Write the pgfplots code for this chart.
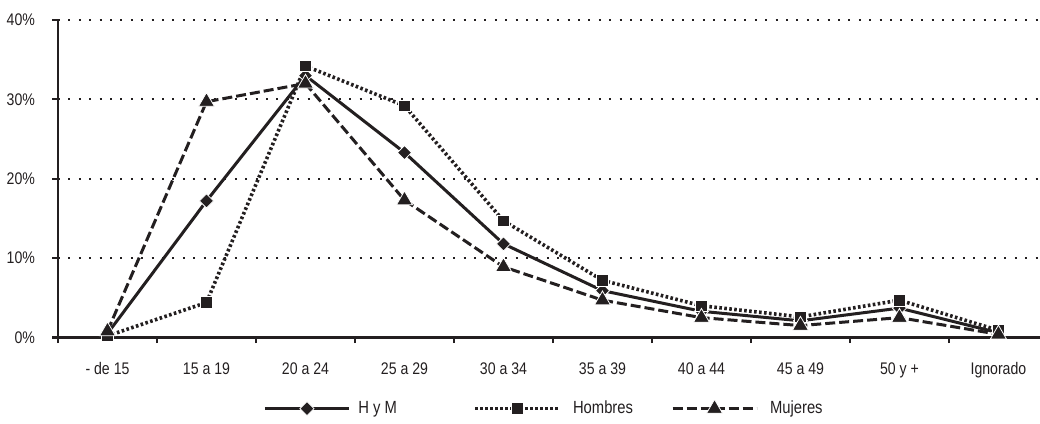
\documentclass[border=0pt]{standalone}
\usepackage{fontspec}
\setmainfont{Liberation Sans}[FakeStretch=0.84]
\usepackage{pgfplots}
\pgfplotsset{compat=1.18}
\definecolor{ink}{RGB}{35,31,32}

\begin{document}
\begin{tikzpicture}
\begin{axis}[
    name=ax,
    scale only axis,
    width=491pt, height=158.75pt,
    xmin=-0.5, xmax=9.42,
    ymin=0, ymax=40,
    axis x line=bottom, axis y line=left,
    axis line style={-, line width=1.3pt, ink},
    xtick={0,...,9},
    xticklabels={- de 15,15 a 19,20 a 24,25 a 29,30 a 34,35 a 39,40 a 44,45 a 49,50 y +,Ignorado},
    major x tick style={draw=none},
    minor xtick={-0.5,0.5,1.5,2.5,3.5,4.5,5.5,6.5,7.5,8.5},
    minor x tick style={line width=1.1pt, ink},
    minor tick length=2.8pt,
    ytick={0,10,20,30,40},
    yticklabels={0\%,10\%,20\%,30\%,40\%},
    y tick style={line width=1.1pt, ink},
    major tick length=3pt,
    tick align=outside,
    ymajorgrids=true,
    grid style={ink, line width=1pt, dash pattern=on 1pt off 4.2pt},
    /pgf/number format/assume math mode=true,
    tick label style={font=\fontsize{8.4}{9}\selectfont, text=ink},
    xticklabel style={yshift=-6pt},
    yticklabel style={xshift=-5pt},
    legend columns=3,
    legend style={at={(0.2088,-0.222)}, anchor=west, draw=none, fill=none,
        inner sep=0pt, column sep=0pt, nodes={inner sep=0pt},
        font=\fontsize{8.8}{10}\selectfont, text=ink},
    legend cell align=left,
    legend image code/.code={
        \draw[mark repeat=2, mark phase=2] plot coordinates {(0pt,0pt) (21pt,0pt) (42pt,0pt)};
    },
]

% H y M
\addplot[ink, line width=1.5pt, mark=square*, mark size=2.5pt,
    mark options={solid, rotate=45, fill=ink, draw=white, line width=0.4pt}]
    coordinates {
    (0,0.5)(1,17.2)(2,33.0)(3,23.3)(4,11.8)(5,5.9)(6,3.3)(7,2.1)(8,3.7)(9,0.6)
    };
\addlegendentry{\makebox[61.5pt][l]{\hspace{4pt}H y M}}

% Hombres
\addplot[ink, line width=1.8pt, dash pattern=on 1.3pt off 1.2pt, mark=square*, mark size=2.9pt,
    mark options={solid, fill=ink, draw=white, line width=0.4pt}]
    coordinates {
    (0,0.2)(1,4.4)(2,34.2)(3,29.2)(4,14.7)(5,7.2)(6,4.0)(7,2.6)(8,4.7)(9,0.9)
    };
\addlegendentry{\makebox[55pt][l]{\hspace{6pt}Hombres}}

% Mujeres
\addplot[ink, line width=1.5pt, dash pattern=on 5pt off 2pt, mark=triangle*, mark size=4.6pt,
    mark options={solid, fill=ink, draw=white, line width=0.4pt}]
    coordinates {
    (0,0.8)(1,29.7)(2,32.0)(3,17.3)(4,8.9)(5,4.7)(6,2.5)(7,1.5)(8,2.5)(9,0.4)
    };
\addlegendentry{\hspace{6pt}Mujeres}
\end{axis}
\pgfresetboundingbox
\path ([xshift=-29pt,yshift=-43.25pt]ax.south west) rectangle ([yshift=10pt]ax.north east);
\end{tikzpicture}
\end{document}
